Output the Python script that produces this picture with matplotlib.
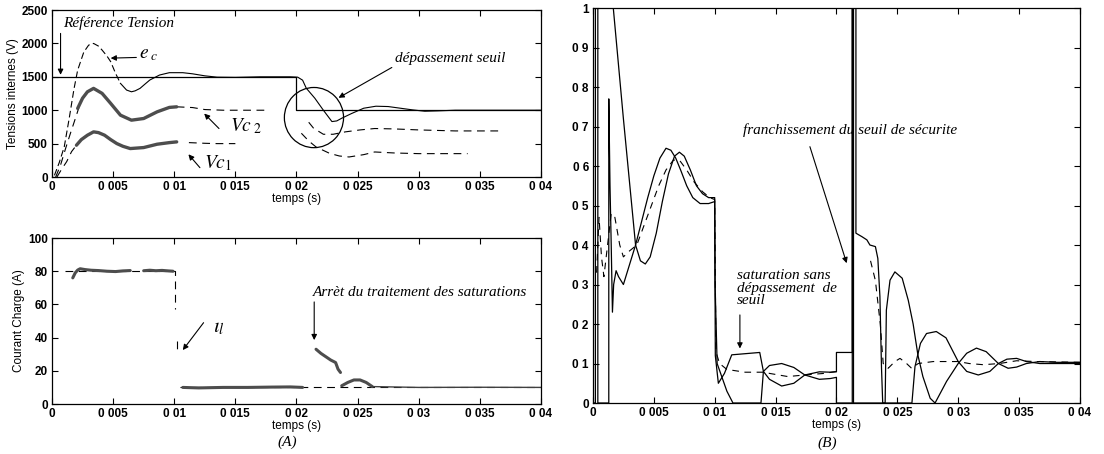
import numpy as np
import matplotlib
matplotlib.use("Agg")
import matplotlib.pyplot as plt
from matplotlib.patches import Ellipse

nan = np.nan

# ---------------- (A) haut : tensions internes ----------------
t_ref = [0, 0.02, 0.02, 0.04]
v_ref = [1500, 1500, 1000, 1000]

# e_c : partie pointillee puis partie continue (coupure a l'indice 14)
t_ec = [0.0002, 0.0006, 0.001, 0.0014, 0.0018, 0.0021, 0.0026, 0.003, 0.0034, 0.0038, 0.0041,
        0.0045, 0.0048, 0.0052, 0.0056, 0.0061, 0.0065, 0.0068, 0.0072, 0.0076, 0.008, 0.0088,
        0.0096, 0.0107, 0.0115, 0.0125, 0.0135, 0.015, 0.017, 0.0195, 0.0201, 0.0205, 0.0208,
        0.0215, 0.0222, 0.0229, 0.0233, 0.0237, 0.0245, 0.0255, 0.0265, 0.0275, 0.0285, 0.0295,
        0.0305, 0.0315, 0.033, 0.04]
v_ec = [25, 220, 450, 870, 1320, 1600, 1870, 1975, 2000, 1960, 1900,
        1810, 1727, 1552, 1402, 1302, 1276, 1290, 1327, 1390, 1452, 1527,
        1562, 1562, 1545, 1515, 1495, 1492, 1500, 1500, 1495, 1450, 1330,
        1180, 1000, 830, 840, 880, 950, 1030, 1060, 1055, 1030, 1005,
        985, 990, 1000, 1000]
cut_ec = 14

# Vc2
t_vc2_dash = [0.0003, 0.0007, 0.0011, 0.0015, 0.0019, 0.0022, nan, 0.0102, 0.0115, 0.0125, 0.014,
              0.016, 0.0178, nan, 0.0210, 0.0214, 0.0222, 0.023, 0.024, 0.0252, 0.0264, 0.028,
              0.030, 0.033, 0.0365]
v_vc2_dash = [0, 180, 420, 650, 870, 1040, nan, 1051, 1040, 1010, 1000,
              1000, 1000, nan, 820, 730, 640, 640, 676, 705, 726, 720,
              705, 690, 690]
t_vc2 = [0.0021, 0.0025, 0.0029, 0.0034, 0.0041, 0.0048, 0.0056, 0.0065, 0.0075, 0.0086, 0.0096, 0.0102]
v_vc2 = [1027, 1180, 1276, 1327, 1252, 1102, 926, 851, 876, 976, 1042, 1051]

# Vc1
t_vc1_dash = [0.0004, 0.0008, 0.0012, 0.0016, 0.002, nan, 0.0112, 0.0125, 0.0135, 0.015, nan,
              0.0204, 0.0210, 0.0216, 0.0227, 0.0235, 0.0243, 0.0255, 0.0264, 0.028, 0.030, 0.032, 0.034]
v_vc1_dash = [0, 120, 230, 380, 476, nan, 515, 505, 500, 500, nan,
              655, 540, 450, 355, 315, 300, 335, 375, 360, 350, 350, 350]
t_vc1 = [0.002, 0.0024, 0.0029, 0.0034, 0.0038, 0.0043, 0.0048, 0.0053, 0.0058, 0.0064, 0.0075,
         0.0086, 0.0096, 0.0102]
v_vc1 = [476, 560, 626, 676, 665, 626, 560, 501, 460, 426, 441, 491, 515, 526]

# ---------------- (A) bas : courant de charge ----------------
t_iref = [0.0011, 0.0101, 0.0101, nan, 0.0102, 0.0102, nan, 0.0105, 0.04]
v_iref = [80, 80, 57, nan, 38, 32, nan, 10, 10]
t_il = [0.0017, 0.0019, 0.0021, 0.0023, 0.0027, 0.0032, 0.0038, 0.0045, 0.0052, 0.0058, 0.0064, nan,
        0.0075, 0.008, 0.0085, 0.009, 0.0095, 0.0099, nan,
        0.0107, 0.012, 0.014, 0.016, 0.018, 0.0195, 0.0205, nan,
        0.0216, 0.0220, 0.0224, 0.0228, 0.0232, 0.0234, 0.0236, nan,
        0.0237, 0.0242, 0.0247, 0.0252, 0.0257, 0.0262]
v_il = [76, 79, 80.7, 81.5, 81, 80.6, 80.4, 80, 79.8, 80.2, 80.4, nan,
        80.3, 80.6, 80.3, 80.5, 80.2, 80, nan,
        10, 9.7, 10, 10, 10.2, 10.3, 10, nan,
        33, 30.5, 28.5, 26.5, 25, 21, 19, nan,
        11, 13, 14.5, 14.5, 13, 10.5]
t_il_fin = [0.0262, 0.03, 0.035, 0.04]
v_il_fin = [10.5, 10, 10.1, 10]

# ---------------- (B) rapports cycliques ----------------
t_s1 = [0, 0.0002, 0.0002, 0.00167, 0.0025, 0.0035, 0.0039, 0.0043, 0.0047, 0.0052, 0.0057, 0.0062,
        0.0067, 0.0071, 0.0075, 0.008, 0.0085, 0.009, 0.0095, 0.0100, 0.01005, 0.0103, 0.0108,
        0.0114, 0.0137, 0.0140, 0.0145, 0.0155, 0.0165, 0.0174, 0.0186, 0.0195, 0.0200, 0.0200,
        0.0213, 0.0213, 0.0214, 0.0214, 0.0262, 0.02645, 0.0269, 0.0274, 0.0282, 0.0290, 0.0300,
        0.0307, 0.03165, 0.0326, 0.0333, 0.0340, 0.0348, 0.0356, 0.0367, 0.04]
v_s1 = [0, 0, 1.0, 1.0, 0.72, 0.40, 0.36, 0.352, 0.37, 0.43, 0.51, 0.58,
        0.625, 0.635, 0.625, 0.59, 0.55, 0.53, 0.52, 0.52, 0.12, 0.05, 0.075,
        0.122, 0.128, 0.08, 0.06, 0.043, 0.05, 0.071, 0.079, 0.078, 0.079, 0.128,
        0.128, 1.0, 1.0, 0.0, 0.0, 0.092, 0.151, 0.176, 0.181, 0.165, 0.105,
        0.08, 0.071, 0.08, 0.10, 0.111, 0.113, 0.105, 0.10, 0.10]
t_s2 = [0.0004, 0.0004, 0.0013, 0.0013, 0.0014, 0.0015, 0.0016, 0.0017, 0.0019, 0.0021, 0.0025,
        0.003, 0.0035, 0.004, 0.0045, 0.005, 0.0055, 0.006, 0.0064, 0.0068, 0.0072, 0.0077,
        0.0082, 0.0088, 0.0095, 0.0100, 0.01003, 0.0102, 0.0106, 0.0110, 0.0115, 0.0138, 0.0140,
        0.0145, 0.0155, 0.0165, 0.0174, 0.0186, 0.0195, 0.0200, 0.0200, 0.0213, 0.0213, 0.0216,
        0.0216, 0.0221, 0.0225, 0.02275, 0.0232, 0.0234, 0.02357, 0.0237, 0.0238, 0.0240, 0.0241,
        0.0244, 0.0248, 0.0254, 0.0259, 0.0263, 0.0267, 0.0271, 0.0277, 0.0281, 0.02905, 0.0300,
        0.0307, 0.0315, 0.0323, 0.0333, 0.0341, 0.0348, 0.0356, 0.0367, 0.0381, 0.04]
v_s2 = [1.0, 0, 0, 0.77, 0.55, 0.40, 0.23, 0.30, 0.335, 0.32, 0.30,
        0.35, 0.40, 0.46, 0.52, 0.575, 0.62, 0.645, 0.64, 0.62, 0.59, 0.55,
        0.52, 0.505, 0.505, 0.51, 0.3, 0.1, 0.065, 0.03, 0.0, 0.0, 0.08,
        0.095, 0.10, 0.09, 0.071, 0.06, 0.062, 0.065, 0.0, 0.0, 1.0, 1.0,
        0.43, 0.421, 0.413, 0.40, 0.396, 0.366, 0.27, 0.09, 0.0, 0.0, 0.235,
        0.311, 0.332, 0.316, 0.26, 0.20, 0.12, 0.067, 0.012, 0.0, 0.055, 0.10,
        0.126, 0.139, 0.13, 0.10, 0.088, 0.091, 0.10, 0.105, 0.103, 0.103]
t_d = [0.0003, 0.0005, 0.0007, 0.0009, 0.0012, 0.0015, 0.0018, 0.0022, 0.0025, 0.003, 0.0036,
       0.0042, 0.0048, 0.0054, 0.006, 0.0066, 0.0071, 0.0077, 0.0083, 0.009, 0.0096, 0.0100,
       0.0101, 0.0104, 0.0110, 0.0125, 0.0140, 0.0145, 0.016, 0.0174, 0.019, 0.0200, nan,
       0.0228, 0.0232, 0.0236, 0.02384, 0.02425, 0.0248, 0.02522, 0.02576, 0.02617, 0.02672,
       0.02795, 0.0293, 0.0300, 0.0309, 0.03206, 0.0334, 0.0348, 0.0364, 0.04]
v_d = [0.33, 0.47, 0.37, 0.32, 0.40, 0.48, 0.47, 0.40, 0.37, 0.385, 0.40,
       0.45, 0.50, 0.55, 0.59, 0.615, 0.615, 0.59, 0.56, 0.535, 0.52, 0.515,
       0.13, 0.10, 0.085, 0.078, 0.078, 0.075, 0.067, 0.071, 0.075, 0.08, nan,
       0.36, 0.31, 0.20, 0.10, 0.088, 0.105, 0.113, 0.10, 0.088, 0.10,
       0.105, 0.105, 0.105, 0.10, 0.097, 0.10, 0.107, 0.105, 0.103]

x_ticks = [0, 0.005, 0.01, 0.015, 0.02, 0.025, 0.03, 0.035, 0.04]
x_labels = ["0", "0 005", "0 01", "0 015", "0 02", "0 025", "0 03", "0 035", "0 04"]
y_ticks_b = [0, 0.1, 0.2, 0.3, 0.4, 0.5, 0.6, 0.7, 0.8, 0.9, 1]
y_labels_b = ["0", "0 1", "0 2", "0 3", "0 4", "0 5", "0 6", "0 7", "0 8", "0 9", "1"]

plt.rcParams['font.family'] = ['Liberation Sans', 'DejaVu Sans']
plt.rcParams['mathtext.fontset'] = 'stix'
serif = dict(family='Liberation Serif', style='italic', fontsize=11)
fleche = dict(arrowstyle='-|>', color='k', lw=0.8, mutation_scale=8, shrinkA=0, shrinkB=0)

fig = plt.figure(figsize=(11.04, 4.54), dpi=100)
ax1 = fig.add_axes([0.0471, 0.6101, 0.4429, 0.3678])
ax2 = fig.add_axes([0.0471, 0.1101, 0.4429, 0.3656])
ax3 = fig.add_axes([0.5371, 0.1123, 0.4411, 0.8700])

for ax in (ax1, ax2, ax3):
    ax.set_xlim(0, 0.04)
    ax.set_xticks(x_ticks)
    ax.set_xticklabels(x_labels)
    ax.tick_params(direction='in', top=True, right=True, length=4, width=0.8,
                   labelsize=8.5, pad=3)
    for lab in ax.get_xticklabels() + ax.get_yticklabels():
        lab.set_fontweight('bold')
    for s in ax.spines.values():
        s.set_linewidth(0.9)

# --- haut gauche
ax1.set_ylim(0, 2500)
ax1.set_yticks([0, 500, 1000, 1500, 2000, 2500])
ax1.set_yticklabels(["0", "500", "1000", "1500", "2000", "2500"], fontweight='bold')
ax1.plot(t_ref, v_ref, color='k', lw=0.9)
ax1.plot(t_ec[:cut_ec + 1], v_ec[:cut_ec + 1], color='k', lw=0.8, dashes=(6, 3))
ax1.plot(t_ec[cut_ec:], v_ec[cut_ec:], color='k', lw=0.8)
ax1.plot(t_vc2_dash, v_vc2_dash, color='k', lw=0.8, dashes=(7, 5))
ax1.plot(t_vc1_dash, v_vc1_dash, color='k', lw=0.8, dashes=(7, 5))
ax1.plot(t_vc2, v_vc2, color='0.3', lw=2.4, solid_capstyle='round')
ax1.plot(t_vc1, v_vc1, color='0.3', lw=2.4, solid_capstyle='round')
ax1.add_patch(Ellipse((0.02143, 890), 0.00484, 901, fill=False, ec='k', lw=0.9))
ax1.set_xlabel("temps (s)", fontsize=8.5, labelpad=0)
ax1.set_ylabel("Tensions internes (V)", fontsize=8.5, labelpad=2)

ax1.text(0.0009, 2300, "Référence Tension", va='center', **serif)
ax1.annotate("", xy=(0.0007, 1530), xytext=(0.0007, 2150), arrowprops=fleche)
ax1.text(0.0071, 1830, r"$e_{\ c}$", fontsize=14, va='center')
ax1.annotate("", xy=(0.0048, 1780), xytext=(0.0069, 1790), arrowprops=fleche)
ax1.text(0.0146, 760, r"$Vc_{\ 2}$", fontsize=14, va='center')
ax1.annotate("", xy=(0.01245, 950), xytext=(0.01366, 726), arrowprops=fleche)
ax1.text(0.0124, 205, r"$Vc_{1}$", fontsize=14, va='center')
ax1.annotate("", xy=(0.01116, 340), xytext=(0.0121, 140), arrowprops=fleche)
ax1.text(0.0281, 1770, "dépassement seuil", va='center', **serif)
ax1.annotate("", xy=(0.02344, 1186), xytext=(0.0278, 1640), arrowprops=fleche)

# --- bas gauche
ax2.set_ylim(0, 100)
ax2.set_yticks([0, 20, 40, 60, 80, 100])
ax2.set_yticklabels(["0", "20", "40", "60", "80", "100"], fontweight='bold')
ax2.plot(t_iref, v_iref, color='k', lw=0.8, dashes=(7, 5))
ax2.plot(t_il, v_il, color='0.3', lw=2.2, solid_capstyle='round')
ax2.plot(t_il_fin, v_il_fin, color='0.25', lw=1.0)
ax2.set_xlabel("temps (s)", fontsize=8.5, labelpad=0)
ax2.set_ylabel("Courant Charge (A)", fontsize=8.5, labelpad=2)
ax2.text(0.0132, 46, r"$\iota_{l}$", fontsize=15, va='center')
ax2.annotate("", xy=(0.0107, 32.5), xytext=(0.0124, 49), arrowprops=fleche)
ax2.text(0.0213, 67, "Arrèt du traitement des saturations", va='center', **serif)
ax2.annotate("", xy=(0.02145, 38.5), xytext=(0.02145, 61.5), arrowprops=fleche)

# --- droite
ax3.set_ylim(0, 1)
ax3.set_yticks(y_ticks_b)
ax3.set_yticklabels(y_labels_b, fontweight='bold')
ax3.plot(t_s1, v_s1, color='k', lw=0.9)
ax3.plot(t_s2, v_s2, color='k', lw=0.9)
ax3.plot(t_d, v_d, color='k', lw=0.8, dashes=(6, 5))
ax3.set_xlabel("temps (s)", fontsize=8.5, labelpad=0)
ax3.text(0.01235, 0.69, "franchissement du seuil de sécurite", va='center', **serif)
ax3.annotate("", xy=(0.02084, 0.354), xytext=(0.01782, 0.649), arrowprops=fleche)
ax3.text(0.0118, 0.29, "saturation sans\ndépassement  de\nseuil", va='center',
         linespacing=0.95, **serif)
ax3.annotate("", xy=(0.01207, 0.138), xytext=(0.01207, 0.223), arrowprops=fleche)

fig.text(287 / 1104, 1 - 442 / 454, "(A)", ha='center', va='center', **serif)
fig.text(827 / 1104, 1 - 443 / 454, "(B)", ha='center', va='center', **serif)

fig.savefig("out.png", dpi=100)
